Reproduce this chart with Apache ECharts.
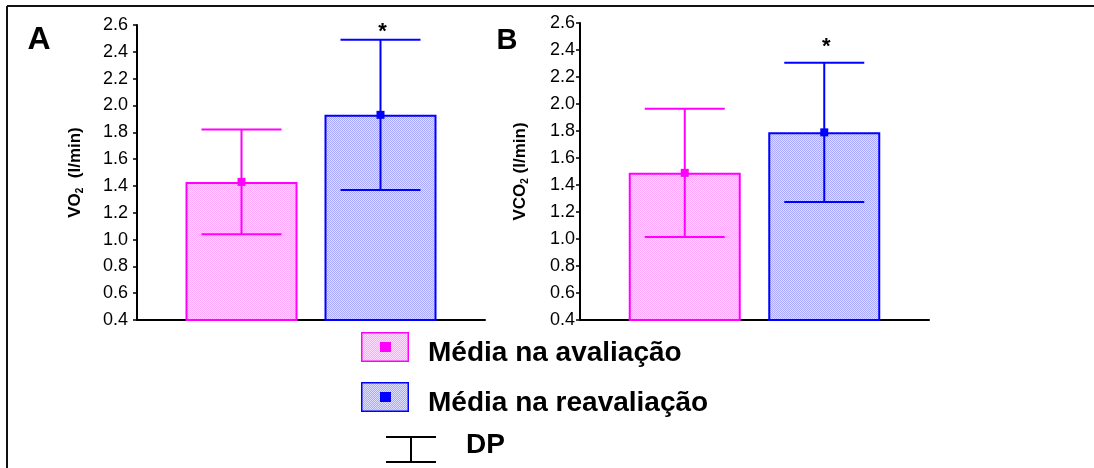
<!DOCTYPE html>
<html><head><meta charset="utf-8">
<script src="https://cdn.jsdelivr.net/npm/echarts@6/dist/echarts.min.js"></script>
<style>html,body{margin:0;padding:0;background:#fff}#c{width:1094px;height:468px}</style>
</head><body><div id="c"></div>
<script>
// ---------------- data ----------------
const categories = ['Avaliação', 'Reavaliação'];
const yTicks = [0.4, 0.6, 0.8, 1.0, 1.2, 1.4, 1.6, 1.8, 2.0, 2.2, 2.4, 2.6];
const vo2Mean = [1.43, 1.93];
const vo2Sd = [0.39, 0.56];
const vco2Mean = [1.49, 1.79];
const vco2Sd = [0.475, 0.515];
const significant = [false, true];
const seriesNames = ['Média na avaliação', 'Média na reavaliação', 'DP'];
const panelLetters = ['A', 'B'];

// ---------------- styles ----------------
const FONT = '"Liberation Sans", Arial, sans-serif';
const PINK = '#ff00ff', BLUE = '#0000ff';
const BAR_W = 112, BAR_GAP = -77, OFF = (BAR_W + BAR_GAP) / 2, CAP = 40, MARK = 8;

function makePattern(c1, c2) {
  const cv = document.createElement('canvas'); cv.width = 4; cv.height = 4;
  const ctx = cv.getContext('2d');
  for (let y = 0; y < 4; y++) for (let x = 0; x < 4; x++) {
    ctx.fillStyle = ((x + y) % 2 === 0) ? c1 : c2; ctx.fillRect(x, y, 1, 1);
  }
  return cv;
}
const pinkPat = makePattern('#ffa6ff', '#ffdcff');
const bluePat = makePattern('#a9a9ff', '#dedeff');

function legendIcon(pat, col) {
  const cv = document.createElement('canvas'); cv.width = 48; cv.height = 42;
  const ctx = cv.getContext('2d');
  ctx.fillStyle = ctx.createPattern(pat, 'repeat'); ctx.fillRect(0, 0, 48, 30);
  ctx.strokeStyle = col; ctx.lineWidth = 1.5; ctx.strokeRect(0.75, 0.75, 46.5, 28.5);
  ctx.fillStyle = col; ctx.fillRect(19, 10, 11, 10);
  return 'image://' + cv.toDataURL();
}
function dpIcon() {
  const cv = document.createElement('canvas'); cv.width = 50; cv.height = 35;
  const ctx = cv.getContext('2d');
  ctx.fillStyle = '#000';
  ctx.fillRect(0, 8, 50, 2); ctx.fillRect(24, 8, 2, 27); ctx.fillRect(0, 33, 50, 2);
  return 'image://' + cv.toDataURL();
}

const panels = [
  { mean: vo2Mean, sd: vo2Sd, grid: { left: 137, right: 609, top: 25, bottom: 148 }, labelMargin: 9, nameGap: 52,
    name: '{a|VO}{s|2}{a|  (l/min)}', asterGap: 8 },
  { mean: vco2Mean, sd: vco2Sd, grid: { left: 580, right: 165, top: 23, bottom: 148 }, labelMargin: 5, nameGap: 50,
    name: '{a|VCO}{s|2}{a| (l/min)}', asterGap: 16 }
];

const grids = [], xAxes = [], yAxes = [], series = [];
panels.forEach((p, i) => {
  grids.push(Object.assign({ containLabel: false }, p.grid));
  xAxes.push({
    type: 'category', gridIndex: i, data: categories,
    axisLine: { lineStyle: { color: '#000', width: 2 } },
    axisTick: { inside: true, length: 4, lineStyle: { color: '#000', width: 1.5 } },
    axisLabel: { show: false }, splitLine: { show: false }
  });
  yAxes.push({
    type: 'value', gridIndex: i, min: yTicks[0], max: yTicks[yTicks.length - 1],
    interval: Math.round((yTicks[1] - yTicks[0]) * 100) / 100,
    axisLine: { show: true, lineStyle: { color: '#000', width: 2 } },
    axisTick: { show: true, length: 4, lineStyle: { color: '#000', width: 1.5 } },
    axisLabel: { fontSize: 18, color: '#000', fontFamily: FONT, margin: p.labelMargin,
      formatter: v => v.toFixed(1) },
    splitLine: { show: false },
    name: p.name, nameLocation: 'middle', nameRotate: 90, nameGap: p.nameGap,
    nameTextStyle: {
      rich: {
        a: { fontSize: 17, fontWeight: 'bold', fontFamily: FONT, color: '#000', lineHeight: 20 },
        s: { fontSize: 10, fontWeight: 'bold', fontFamily: FONT, color: '#000', lineHeight: 10, verticalAlign: 'bottom' }
      }
    }
  });
  series.push({
    name: seriesNames[1], type: 'bar', xAxisIndex: i, yAxisIndex: i,
    barWidth: BAR_W, barGap: (BAR_GAP / BAR_W * 100) + '%',
    data: ['-', p.mean[1]],
    itemStyle: { color: { image: bluePat, repeat: 'repeat' }, borderColor: BLUE, borderWidth: 2 },
    emphasis: { disabled: true }, z: 2
  });
  series.push({
    name: seriesNames[0], type: 'bar', xAxisIndex: i, yAxisIndex: i,
    barWidth: BAR_W, barGap: (BAR_GAP / BAR_W * 100) + '%',
    data: [p.mean[0], '-'],
    itemStyle: { color: { image: pinkPat, repeat: 'repeat' }, borderColor: PINK, borderWidth: 2 },
    emphasis: { disabled: true }, z: 2
  });
  series.push({
    name: seriesNames[2], type: 'custom', xAxisIndex: i, yAxisIndex: i, z: 5,
    encode: { x: 0, y: 1 },
    data: categories.map((c, k) => [k, p.mean[k], p.sd[k], significant[k] ? 1 : 0]),
    itemStyle: { color: '#000' },
    renderItem: function (params, api) {
      const k = api.value(0), m = api.value(1), s = api.value(2), sig = api.value(3);
      const col = k === 0 ? PINK : BLUE;
      const dx = k === 0 ? OFF : -OFF;
      const cm = api.coord([k, m]);
      const x = cm[0] + dx;
      const yHi = api.coord([k, m + s])[1];
      const yLo = api.coord([k, m - s])[1];
      const ls = { stroke: col, lineWidth: 2 };
      const ch = [
        { type: 'line', shape: { x1: x, y1: yHi, x2: x, y2: yLo }, style: ls },
        { type: 'line', shape: { x1: x - CAP, y1: yHi, x2: x + CAP, y2: yHi }, style: ls },
        { type: 'line', shape: { x1: x - CAP, y1: yLo, x2: x + CAP, y2: yLo }, style: ls },
        { type: 'rect', shape: { x: x - MARK / 2, y: cm[1] - MARK / 2, width: MARK, height: MARK }, style: { fill: col } }
      ];
      if (sig) {
        ch.push({ type: 'text', x: x + 2, y: yHi - p.asterGap,
          style: { text: '*', fontSize: 22, fontWeight: 'bold', fontFamily: FONT, fill: '#000',
            align: 'center', verticalAlign: 'middle' } });
      }
      return { type: 'group', children: ch };
    }
  });
});

const chart = echarts.init(document.getElementById('c'), null, { renderer: 'canvas' });
chart.setOption({
  animation: false,
  backgroundColor: '#fff',
  grid: grids, xAxis: xAxes, yAxis: yAxes, series: series,
  legend: [
    { orient: 'vertical', left: 361, top: 332, padding: 0, itemWidth: 48, itemHeight: 42, itemGap: 8,
      selectedMode: false,
      data: [
        { name: seriesNames[0], icon: legendIcon(pinkPat, PINK) },
        { name: seriesNames[1], icon: legendIcon(bluePat, BLUE) }
      ],
      textStyle: { fontSize: 28, fontWeight: 'bold', color: '#000', fontFamily: FONT, padding: [0, 0, 0, 14] } },
    { orient: 'vertical', left: 386, top: 428, padding: 0, itemWidth: 50, itemHeight: 35, selectedMode: false,
      data: [{ name: seriesNames[2], icon: dpIcon() }],
      textStyle: { fontSize: 28, fontWeight: 'bold', color: '#000', fontFamily: FONT, padding: [0, 0, 0, 25] } }
  ],
  graphic: [
    { type: 'line', shape: { x1: 7, y1: 6, x2: 1094, y2: 6 }, style: { stroke: '#111', lineWidth: 2 } },
    { type: 'line', shape: { x1: 7, y1: 6, x2: 7, y2: 468 }, style: { stroke: '#111', lineWidth: 2 } },
    { type: 'text', x: 39, y: 40, style: { text: panelLetters[0], fontSize: 32, fontWeight: 'bold', fontFamily: FONT,
      fill: '#000', align: 'center', verticalAlign: 'middle' } },
    { type: 'text', x: 507, y: 41, style: { text: panelLetters[1], fontSize: 29, fontWeight: 'bold', fontFamily: FONT,
      fill: '#000', align: 'center', verticalAlign: 'middle' } }
  ]
});
</script></body></html>
